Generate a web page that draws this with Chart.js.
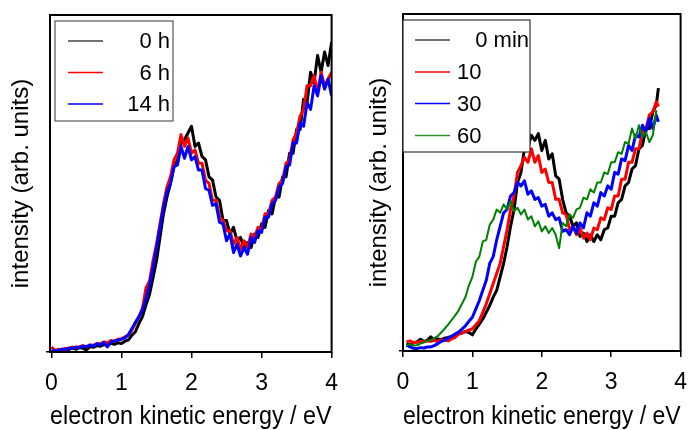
<!DOCTYPE html>
<html><head><meta charset="utf-8">
<script src="https://cdn.jsdelivr.net/npm/chart.js@4"></script>
<style>
html,body{margin:0;padding:0;background:#fff;}
#wrap{position:relative;width:699px;height:430px;overflow:hidden;background:#fff;}
#c1{position:absolute;left:0;top:0;width:350px;height:430px;}
#c2{position:absolute;left:350px;top:0;width:349px;height:430px;}
</style></head><body>
<div id="wrap"><canvas id="c1" width="350" height="430"></canvas><canvas id="c2" width="349" height="430"></canvas></div>
<script>
// ---------- data ----------
const xTickValues = [0, 1, 2, 3, 4];
const xTickLabels = ['0', '1', '2', '3', '4'];
const xTitle = 'electron kinetic energy / eV';
const yTitle = 'intensity (arb. units)';

const leftLabels = ['0 h', '6 h', '14 h'];
const rightLabels = ['0 min', '10', '30', '60'];

const energyLeft = [
0,0.05,0.1,0.15,0.2,0.25,0.3,0.35,0.4,0.45,
0.5,0.55,0.6,0.65,0.7,0.75,0.8,0.85,0.9,0.95,
1,1.05,1.1,1.15,1.2,1.25,1.3,1.35,1.4,1.45,
1.5,1.55,1.6,1.65,1.7,1.75,1.8,1.85,1.9,1.95,
2,2.05,2.1,2.15,2.2,2.25,2.3,2.35,2.4,2.45,
2.5,2.55,2.6,2.65,2.7,2.75,2.8,2.85,2.9,2.95,
3,3.05,3.1,3.15,3.2,3.25,3.3,3.35,3.4,3.45,
3.5,3.55,3.6,3.65,3.7,3.75,3.8,3.85,3.9,3.95,
4];
const h0 = [
0.3,0.0,0.6,0.4,0.9,0.7,1.2,0.8,1.3,1.1,
0.6,1.6,1.4,1.9,1.7,2.2,2.0,2.6,2.3,2.7,
2.5,3.2,3.6,5.0,6.0,8.5,10.5,14,17,22,
27,34,41,46,50,55,57,62,63,65,
67,61,62,58,57,52,51,46,45,39,
39,35,37,33,34,31,32.5,31,35,34,
38,37,42,41,46,46,52,52,59,59,
66,66,75,74,83,80,88,83,89,85,
92];
const h6 = [
1.5,0.4,0.8,0.5,1.1,1.0,1.5,1.2,1.6,1.9,
1.5,2.1,2.0,2.5,2.4,3.0,2.7,3.4,3.1,3.8,
3.9,4.5,5.0,6.5,8.5,10.5,13,19,21,27,
32,38,44,49,52,57,59,64.5,61,63.5,
59,60,56,56,51,50,45,45,40,39,
36,36,32,34,30.5,33,31,35,34,37,
36.5,41,41,45,46,50,51,56,57,63,
65,70,72,79,79,82,77,83,79,81,
83];
const h14 = [
0.2,0.5,0.3,0.9,0.7,1.2,1.0,1.5,1.3,1.7,
1.6,2.0,1.8,2.4,2.2,2.8,1.5,3.0,3.3,3.5,
3.8,4.2,5.2,7.0,8.8,10.5,12.5,16,20,25,
31,37,43,47.5,50,55,55.5,61,57.5,61,
57,58,54,54,48.5,48,43.5,44,38.5,38,
33,35,29.5,32,28.5,31,29,34,32.5,36,
35.5,40,40,44,45,49,50,55,55.5,62,
62,68,67,74,72,79,76,82,78,81,
76];

const energyRight = [
0.05,0.1,0.15,0.2,0.25,0.3,0.35,0.4,0.45,0.5,
0.55,0.6,0.65,0.7,0.75,0.8,0.85,0.9,0.95,1,
1.05,1.1,1.15,1.2,1.25,1.3,1.35,1.4,1.45,1.5,
1.55,1.6,1.65,1.7,1.75,1.8,1.85,1.9,1.95,2,
2.05,2.1,2.15,2.2,2.25,2.3,2.35,2.4,2.45,2.5,
2.55,2.6,2.65,2.7,2.75,2.8,2.85,2.9,2.95,3,
3.05,3.1,3.15,3.2,3.25,3.3,3.35,3.4,3.45,3.5,
3.55,3.6,3.65,3.68];
const m0 = [
2.2,1.8,2.5,2.7,3.5,2.8,3.2,4.2,3.3,3.6,
3.4,3.8,4.0,4.3,4.6,5.0,5.3,5.8,5.5,4.8,
6.5,8.0,9.5,11.5,13.5,16,18,22,26,31,
37,42,50,53,60,60.5,64,62.5,64.5,59.5,
62.5,57,58.5,52,51,45,41,40,37,38,
34,35,32.5,34.5,32.5,34.5,33,36,36.5,40,
40,44,45,49,50,54,55,60,61,66,
66,71,73,78];
const m10 = [
2.7,3.0,2.4,2.6,2.8,2.7,3.0,2.9,3.2,2.8,
3.3,3.2,3.0,3.6,4.0,5.0,5.4,5.8,6.2,6.6,
7.8,9.0,11.5,14,17,20,23,26,31,36,
42,46,53,55,57.5,56,60,56,58,53,
54,50,50,45,45,41,40.5,36,37,34.5,
36.5,33.5,35,33,36.5,36,39.5,39,42.5,42,
46,46,51,51,56,56,60,60,65,66,
70,71,74,72.5];
const m30 = [
1.7,1.2,0.8,0.7,1.0,0.9,1.2,1.2,1.6,2.2,
2.8,3.2,3.8,4.4,5.0,5.6,6.5,7.5,8.8,10,
12.5,15,18,21,26,28,33,37,41,42,
46,47,50,49,50.5,46.5,47.5,45,45.5,43,
43.5,40,41,39,39.5,35.5,36,34.5,37,35,
38,36.5,41,40,44,43,47,46,49,48,
53,52.5,57,56.5,61,59.5,64,63.5,67,65,
69,66,70,68];
const m60 = [
1.7,2.0,1.6,1.7,2.2,2.6,3.0,3.2,3.8,4.4,
5.5,6.6,7.8,9.2,10.5,12,14,16,19.5,22,
26.5,28,32.5,33,37.5,39,42,41,43.5,42,
44.5,41.5,42.5,40.5,42,39,40,37,38.5,35.5,
37,35,36.5,34.5,30.5,38,37,40.5,39.5,42,
42.5,45.5,45,48,47,50,50,53,52.5,56,
56,59,58.5,62,61.5,66,63,67,63.5,65,
62,64,71.5,null];

// ---------- helpers ----------
Chart.defaults.font.family = '"Liberation Sans", Arial, Helvetica, sans-serif';
Chart.defaults.color = '#000';

function pts(xs, ys) { return xs.map((x, i) => ({x: x, y: ys[i]})); }

const framePlugin = {
  id: 'frameLegend',
  afterDatasetsDraw(chart, args, opts) {
    const ctx = chart.ctx, a = chart.chartArea;
    ctx.save();
    ctx.strokeStyle = '#000';
    ctx.lineWidth = 2;
    ctx.strokeRect(a.left, a.top, a.right - a.left, a.bottom - a.top);
    const L = opts.legend;
    if (L) {
      ctx.fillStyle = '#fff';
      ctx.fillRect(L.x, L.y, L.w, L.h);
      ctx.strokeStyle = L.border;
      ctx.lineWidth = 1.2;
      ctx.strokeRect(L.x, L.y, L.w, L.h);
      ctx.font = L.fontSize + 'px "Liberation Sans", Arial, sans-serif';
      ctx.textBaseline = 'middle';
      chart.data.datasets.forEach((ds, i) => {
        const y = L.rowY[i];
        ctx.strokeStyle = ds.legendColor;
        ctx.lineWidth = 1.6;
        ctx.beginPath();
        ctx.moveTo(L.lx0, y);
        ctx.lineTo(L.lx1, y);
        ctx.stroke();
        ctx.fillStyle = '#000';
        const al = L.align[i];
        ctx.textAlign = al.a;
        ctx.fillText(ds.label, al.x, y + 1);
      });
    }
    ctx.restore();
  }
};

function makeChart(id, cfg) {
  return new Chart(document.getElementById(id), {
    type: 'scatter',
    data: { datasets: cfg.datasets },
    options: {
      responsive: false,
      animation: false,
      devicePixelRatio: 1,
      showLine: true,
      layout: { padding: { left: 0, right: cfg.padRight, top: cfg.padTop, bottom: 0 } },
      elements: { point: { radius: 0, hoverRadius: 0 }, line: { tension: 0, borderJoinStyle: 'round' } },
      plugins: { legend: { display: false }, tooltip: { enabled: false }, frameLegend: { legend: cfg.legend } },
      scales: {
        x: {
          type: 'linear', min: cfg.xmin, max: 4,
          afterBuildTicks: s => { s.ticks = xTickValues.map(v => ({value: v})); },
          ticks: { font: { size: 23 }, color: '#000', padding: 12, maxRotation: 0,
                   callback: (v, i) => xTickLabels[i] },
          grid: { display: true, drawOnChartArea: false, drawTicks: true, tickLength: 6, color: '#000', lineWidth: 1.5 },
          border: { display: false },
          title: { display: true, text: xTitle, color: '#000', font: { size: 26, lineHeight: 1 }, padding: { top: 0, bottom: 0 } },
          afterFit: s => { s.height = cfg.xHeight; }
        },
        y: {
          min: 0, max: 100,
          afterBuildTicks: s => { s.ticks = [{value: 0}]; },
          ticks: { display: false },
          grid: { display: true, drawOnChartArea: false, drawTicks: true, tickLength: 4, color: '#000', lineWidth: 1.5 },
          border: { display: false },
          title: { display: true, text: yTitle, color: '#000', font: { size: 24, lineHeight: 1.2 }, padding: { top: cfg.yTitlePad, bottom: 0 } },
          afterFit: s => { s.width = cfg.yWidth; }
        }
      }
    },
    plugins: [framePlugin]
  });
}

makeChart('c1', {
  xmin: -0.02, padRight: 13, padTop: 15, xHeight: 78, yWidth: 50, yTitlePad: 7,
  datasets: [
    { label: leftLabels[0], data: pts(energyLeft, h0), borderColor: '#000', legendColor: '#444', borderWidth: 3, order: 2 },
    { label: leftLabels[1], data: pts(energyLeft, h6), borderColor: '#ff0000', legendColor: '#ff0000', borderWidth: 3, order: 1 },
    { label: leftLabels[2], data: pts(energyLeft, h14), borderColor: '#0000ff', legendColor: '#0000ff', borderWidth: 3, order: 0 }
  ],
  legend: { x: 55, y: 21, w: 118, h: 100, border: '#555', fontSize: 22, lx0: 68, lx1: 103,
            rowY: [41, 72.5, 104],
            align: [{a: 'right', x: 170}, {a: 'right', x: 170}, {a: 'right', x: 170}] }
});

makeChart('c2', {
  xmin: 0, padRight: 10, padTop: 14, xHeight: 79, yWidth: 53, yTitlePad: 15,
  datasets: [
    { label: rightLabels[0], data: pts(energyRight, m0), borderColor: '#000', legendColor: '#444', borderWidth: 3, order: 3 },
    { label: rightLabels[1], data: pts(energyRight, m10), borderColor: '#ff0000', legendColor: '#ff0000', borderWidth: 3, order: 2 },
    { label: rightLabels[2], data: pts(energyRight, m30), borderColor: '#0000ff', legendColor: '#0000ff', borderWidth: 3, order: 1 },
    { label: rightLabels[3], data: pts(energyRight, m60), borderColor: '#008000', legendColor: '#2e8b2e', borderWidth: 2, order: 0 }
  ],
  legend: { x: 53, y: 20, w: 127, h: 132, border: '#333', fontSize: 22, lx0: 65, lx1: 100,
            rowY: [40, 72, 103.5, 135.5],
            align: [{a: 'right', x: 179}, {a: 'left', x: 107}, {a: 'left', x: 107}, {a: 'left', x: 107}] }
});
</script>
</body></html>
